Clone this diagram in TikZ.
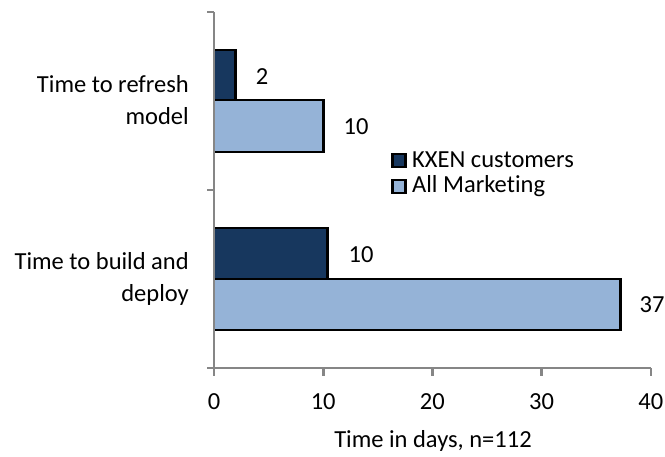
\documentclass[tikz,border=0pt]{standalone}
\usepackage{fontspec}
\setmainfont[Ligatures=NoCommon]{Carlito}
\definecolor{navy}{HTML}{17375E}
\definecolor{paleblue}{HTML}{95B3D7}
\definecolor{axisgray}{HTML}{868686}
\begin{document}
\begin{tikzpicture}[x=1pt,y=-1pt,
  bar/.style={draw=black,line width=2.8pt},
  kxen/.style={bar,fill=navy},
  allm/.style={bar,fill=paleblue},
  axisline/.style={draw=axisgray,line width=2.6pt},
  lbl/.style={font=\fontsize{24.5}{32}\selectfont,inner sep=0pt},
  catlbl/.style={lbl,align=right,anchor=east},
  swatch/.style={draw=black,line width=2.2pt,minimum size=13pt,inner sep=0pt}]
  \useasboundingbox (0,0) rectangle (665,456);
  % value scale: 10 days = 109.2 px, origin at x=214
  \def\xo{214}\def\sc{10.92}
  % bars
  \path[kxen] (\xo,50) rectangle ({\xo+2*\sc},100);
  \path[allm] (\xo,100) rectangle ({\xo+10*\sc},152);
  \path[kxen] (\xo,228) rectangle ({\xo+10.4*\sc},279);
  \path[allm] (\xo,279) rectangle ({\xo+37.2*\sc},330);
  % axes
  \coordinate (ytop) at (\xo,12);
  \coordinate (orig) at (\xo,368);
  \coordinate (xend) at ({\xo+40*\sc},368);
  \path[axisline] (ytop) -- (orig) -- (xend);
  \foreach \yy in {12,190,368}
    \path[axisline] (\xo-7,\yy) -- (\xo,\yy);
  \foreach \v in {0,10,20,30,40}{
    \path[axisline] ({\xo+\v*\sc},368) -- ({\xo+\v*\sc},376);
    \node[lbl] (t\v) at ({\xo+\v*\sc},402) {\v};
  }
  \node[lbl] (xtitle) at (433,441) {Time in days, n=112};
  % value labels
  \node[lbl] (v1) at (262,77) {2};
  \node[lbl] (v2) at (356,127) {10};
  \node[lbl] (v3) at (361,255) {10};
  \node[lbl] (v4) at (652,305) {37};
  % category labels
  \node[catlbl] (c1) at (189,100) {Time to refresh\\model};
  \node[catlbl] (c2) at (189,279) {Time to build and\\deploy};
  % legend
  \node[swatch,fill=navy] (s1) at (399,160.5) {};
  \node[lbl,anchor=west] (l1) at (412,160) {KXEN customers};
  \node[swatch,fill=paleblue] (s2) at (399,186.5) {};
  \node[lbl,anchor=west] (l2) at (412,186) {All Marketing};
\end{tikzpicture}
\end{document}
